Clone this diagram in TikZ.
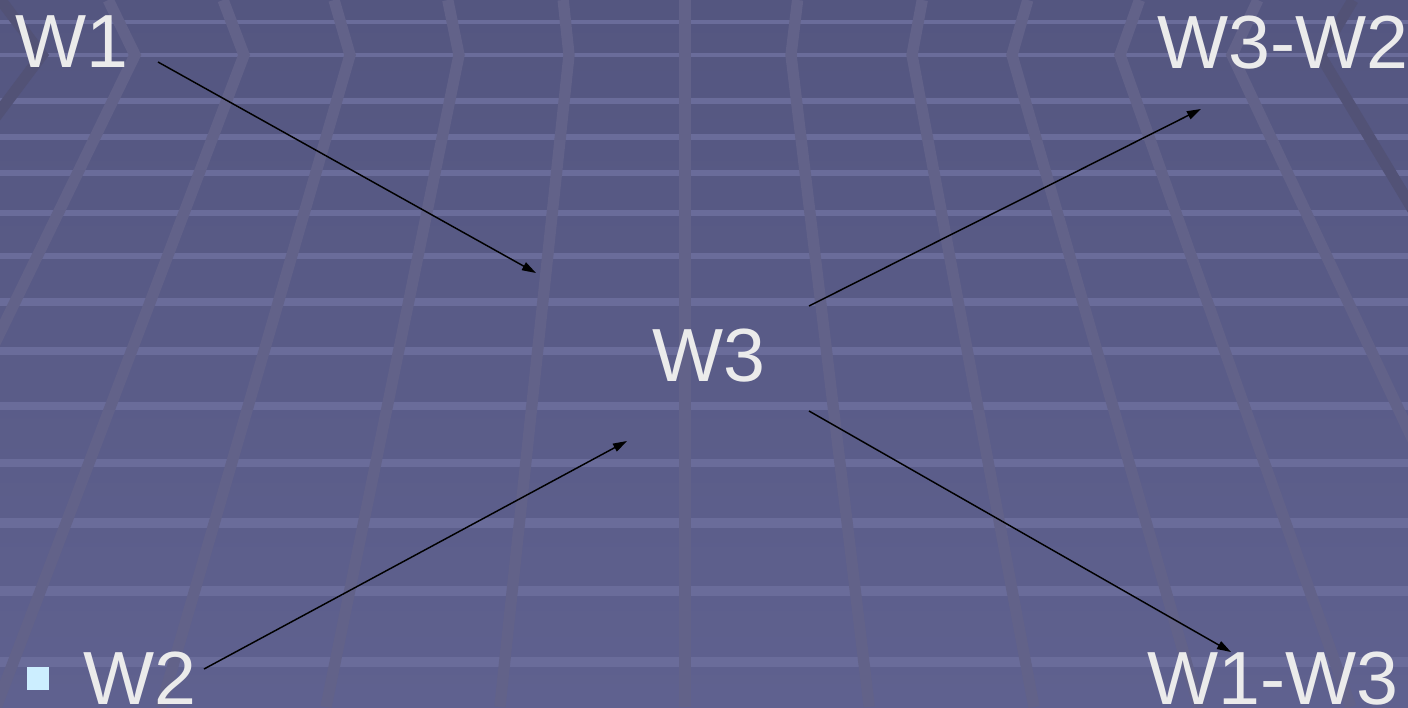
\documentclass[tikz,border=0pt]{standalone}
\usepackage{fontspec}
\setmainfont{Liberation Sans}
\usetikzlibrary{arrows.meta}
\definecolor{bgtop}{RGB}{84,86,128}
\definecolor{bgbot}{RGB}{95,97,143}
\definecolor{hline}{RGB}{106,108,154}
\definecolor{vline}{RGB}{98,98,137}
\definecolor{vdark}{RGB}{82,82,118}
\definecolor{txt}{RGB}{235,235,235}
\definecolor{bulletc}{RGB}{204,238,255}
\tikzset{
  lbl/.style={text=txt, font=\fontsize{56.5}{60}\selectfont, inner sep=0pt, anchor=base west},
  conn/.style={draw=black, line width=1.1pt, -{Triangle[length=10.5pt,width=6.5pt]}},
  gridv/.style={draw=vline, line width=8.5pt, line join=miter},
  gridvd/.style={draw=vdark, line width=8.5pt, line join=miter},
}
\begin{document}
\begin{tikzpicture}[x=0.75pt,y=-0.75pt]
\useasboundingbox (0,0) rectangle (1408,707);
\begin{scope}
\clip (0,0) rectangle (1408,707);
\shade[top color=bgtop, bottom color=bgbot] (0,0) rectangle (1408,707);
% horizontal grid lines
\foreach \yy/\ww in {22/3.2, 55/3.6, 101/4.0, 137/4.2, 173/4.4, 213/4.7, 256/5.0, 302/5.3, 351/5.6, 406/6.0, 463/6.4, 523/6.8, 591/7.2, 662/7.7}
  \draw[hline, line width=\ww pt] (0,\yy) -- (1408,\yy);
% vertical (perspective) grid lines with chevron at y=55
\foreach \a/\s in {135/-0.486, 244/-0.38, 350/-0.29, 459/-0.204, 569/-0.106, 685/0, 791/0.12, 912/0.187, 1012/0.287, 1120/0.354, 1232/0.47}
  \draw[gridv] ({\a+55*\s},0) -- (\a,55) -- ({\a+652*\s},707);
\foreach \a/\s in {42/-0.75, 1320/0.6}
  \draw[gridvd] ({\a+55*\s},0) -- (\a,55) -- ({\a+652*\s},707);
\end{scope}
% labels
\node[lbl] (w1) at (15,67) {W1};
\node[lbl] (w32) at (1157,68) {W3-W2};
\node[lbl] (w3) at (652,381) {W3};
\node[lbl] (w2) at (83,704) {W2};
\node[lbl] (w13) at (1147,704) {W1-W3};
\node[fill=bulletc, inner sep=0pt, minimum width=16.5pt, minimum height=17pt] (bul) at (38,678.5) {};
% connectors
\coordinate (a1s) at (158,62);
\coordinate (a1e) at (536,273);
\coordinate (a2s) at (204,669);
\coordinate (a2e) at (627,441);
\coordinate (a3s) at (809,306);
\coordinate (a3e) at (1201,109);
\coordinate (a4s) at (809,411);
\coordinate (a4e) at (1231,652);
\draw[conn] (a1s) -- (a1e);
\draw[conn] (a2s) -- (a2e);
\draw[conn] (a3s) -- (a3e);
\draw[conn] (a4s) -- (a4e);
\end{tikzpicture}
\end{document}
